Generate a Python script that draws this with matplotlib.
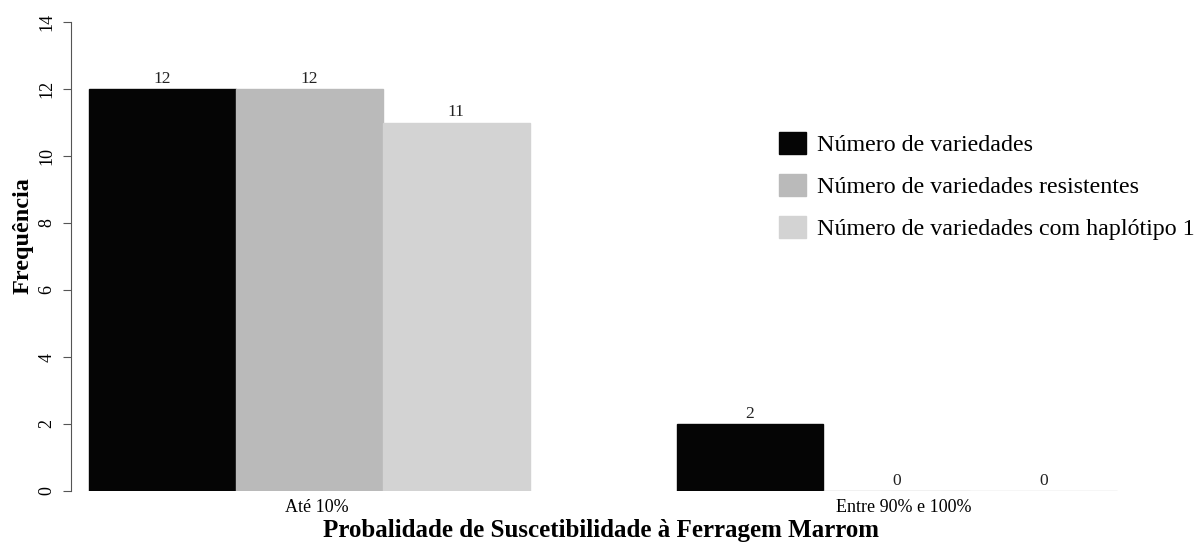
import numpy as np
import matplotlib
matplotlib.use("Agg")
import matplotlib.pyplot as plt
from matplotlib.patches import Patch

plt.rcParams['font.family'] = ['Liberation Serif', 'DejaVu Serif']

# data
groups = ['Até 10%', 'Entre 90% e 100%']
series = ['Número de variedades', 'Número de variedades resistentes',
          'Número de variedades com haplótipo 1']
n_var = [12, 2]
n_res = [12, 0]
n_hap = [11, 0]
colors = ['#050505', '#bababa', '#d3d3d3']

W, H = 1195, 546
fig = plt.figure(figsize=(W / 100, H / 100), dpi=100)
# axes box in pixel coords: x 71..1123, y(0)=491, y(14)=22
ax = fig.add_axes([71 / W, 1 - 491 / H, (1123 - 71) / W, (491 - 22) / H])

values = [n_var, n_res, n_hap]
# R-style beside barplot, space=c(0,1): group g starts at 1 + 4*g
for i, (vals, c) in enumerate(zip(values, colors)):
    lefts = [1 + 4 * g + i for g in range(len(groups))]
    ax.bar(lefts, vals, width=1, align='edge', color=c, edgecolor=c, linewidth=1)
    for x, v in zip(lefts, vals):
        ax.text(x + 0.5, v + 0.06, str(v), ha='center', va='bottom', fontsize=12.5, color='#222222')

ax.set_xlim(0.877, 8.04)
ax.set_ylim(0, 14)
ax.set_yticks(np.arange(0, 15, 2))
ax.set_yticklabels([str(t) for t in range(0, 15, 2)], rotation=90, va='center', fontsize=13)
ax.set_xticks([2.55, 6.55])
ax.set_xticklabels(groups, fontsize=13)
ax.tick_params(axis='x', length=0, pad=6)
ax.tick_params(axis='y', length=6, width=0.8, color='#555555', pad=5)
for s in ['top', 'right', 'bottom']:
    ax.spines[s].set_visible(False)
ax.spines['left'].set_color('#555555')
ax.spines['left'].set_linewidth(0.8)

fig.text(23 / W, 1 - 236 / H, 'Frequência', rotation=90, ha='center', va='center',
         fontsize=17.5, fontweight='bold')
fig.text(601 / W, 1 - 531 / H, 'Probalidade de Suscetibilidade à Ferragem Marrom',
         ha='center', va='center', fontsize=18, fontweight='bold')

handles = [Patch(facecolor=c, edgecolor=c) for c in colors]
fig.legend(handles, series, loc='upper left', bbox_to_anchor=(779 / W, 1 - 132 / H),
           frameon=False, fontsize=17.3, handlelength=1.12, handleheight=1.04,
           handletextpad=0.45, labelspacing=0.74, borderaxespad=0, borderpad=0)

fig.savefig('out.png', dpi=100)
